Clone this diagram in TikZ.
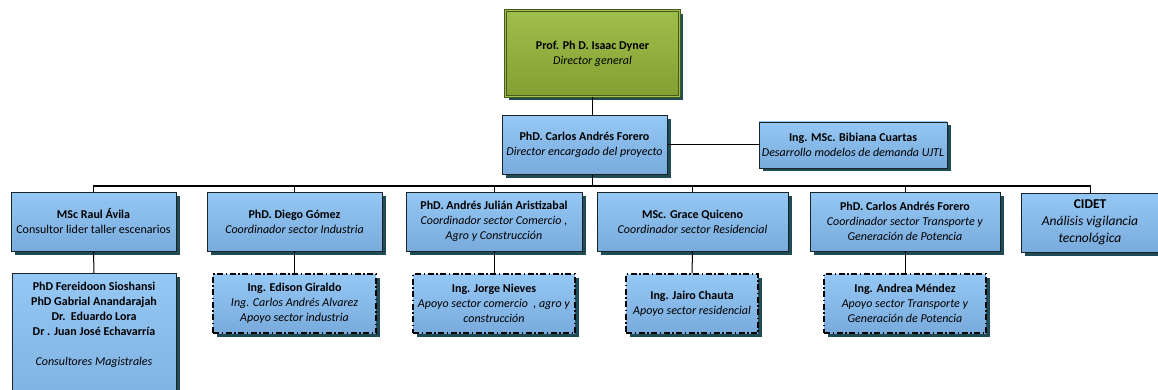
\documentclass[tikz,border=0pt]{standalone}
\usepackage{fontspec}
\setmainfont{Carlito}
\usetikzlibrary{shadows}
\definecolor{blueT}{RGB}{150,200,245}
\definecolor{blueB}{RGB}{120,170,220}
\definecolor{greenT}{RGB}{160,190,75}
\definecolor{greenB}{RGB}{130,160,50}
\definecolor{greenD}{RGB}{70,90,30}
\definecolor{shadowc}{RGB}{30,75,85}
\definecolor{edgec}{RGB}{25,35,40}
\tikzset{
  box/.style={draw=edgec, line width=0.8pt, top color=blueT, bottom color=blueB,
    drop shadow={shadow xshift=3.5pt, shadow yshift=-3.5pt, fill=shadowc, opacity=1},
    align=center, inner sep=2pt, font=\fontsize{12}{15}\selectfont},
  dbox/.style={box, line width=1.4pt, draw=black, dash pattern=on 6pt off 2.5pt on 1.5pt off 2.5pt},
  gbox/.style={draw=greenD, line width=0.6pt, double=greenT, double distance=1.6pt,
    top color=greenT, bottom color=greenB,
    drop shadow={shadow xshift=3.5pt, shadow yshift=-3.5pt, fill=shadowc, opacity=1},
    align=center, inner sep=2pt, font=\fontsize{12}{15}\selectfont},
  conn/.style={draw=black, line width=1pt},
}
\begin{document}
\begin{tikzpicture}[x=1pt,y=-1pt]
\clip (0,0) rectangle (1158,390);
\fill[white] (0,0) rectangle (1158,390);
% level 0
\node[gbox, minimum width=174pt, minimum height=86pt] (dir) at (592.5,53.5)
  {\textbf{Prof. Ph D. Isaac Dyner}\\\textit{Director general}};
% level 1
\node[box, minimum width=165pt, minimum height=59pt] (cf) at (584.5,145)
  {\textbf{PhD. Carlos Andrés Forero}\\\textit{Director encargado del proyecto}};
\node[box, minimum width=188pt, minimum height=46pt] (bc) at (853,145)
  {\textbf{Ing. MSc. Bibiana Cuartas}\\\textit{Desarrollo modelos de demanda UJTL}};
% level 2
\node[box, minimum width=165pt, minimum height=59pt] (ra) at (93.5,221.5)
  {\textbf{MSc Raul Ávila}\\Consultor lider taller escenarios};
\node[box, minimum width=175pt, minimum height=59pt] (dg) at (294.5,221.5)
  {\textbf{PhD. Diego Gómez}\\\textit{Coordinador sector Industria}};
\node[box, minimum width=176pt, minimum height=59pt] (aj) at (494,221.5)
  {\textbf{PhD. Andrés Julián Aristizabal}\\\textit{Coordinador sector Comercio ,}\\\textit{Agro y Construcción}};
\node[box, minimum width=191pt, minimum height=59pt] (gq) at (692.5,221.5)
  {\textbf{MSc. Grace Quiceno}\\\textit{Coordinador sector Residencial}};
\node[box, minimum width=190pt, minimum height=59pt] (ct) at (905,221.5)
  {\textbf{PhD. Carlos Andrés Forero}\\\textit{Coordinador sector Transporte y}\\\textit{Generación de Potencia}};
\node[box, minimum width=137pt, minimum height=59pt, font=\fontsize{13.5}{17}\selectfont] (ci) at (1090,222.5)
  {\textbf{CIDET}\\\textit{Análisis vigilancia}\\\textit{tecnológica}};
% level 3
\node[box, minimum width=164pt, anchor=north, inner ysep=9pt] (cm) at (94,273)
  {\textbf{PhD Fereidoon Sioshansi}\\\textbf{PhD Gabrial Anandarajah}\\\textbf{Dr.\ \ Eduardo Lora}\\\textbf{Dr . Juan José Echavarría}\\[15pt]\textit{Consultores Magistrales}\\[50pt]\mbox{}};
\node[dbox, minimum width=163pt, minimum height=59pt] (eg) at (294.5,303.5)
  {\textbf{Ing. Edison Giraldo}\\\textit{Ing. Carlos Andrés Alvarez}\\\textit{Apoyo sector industria}};
\node[dbox, minimum width=162pt, minimum height=59pt] (jn) at (494,303.5)
  {\textbf{Ing. Jorge Nieves}\\\textit{Apoyo sector comercio\ \ , agro y}\\\textit{construcción}};
\node[dbox, minimum width=132pt, minimum height=59pt] (jc) at (692,303.5)
  {\textbf{Ing. Jairo Chauta}\\\textit{Apoyo sector residencial}};
\node[dbox, minimum width=162pt, minimum height=59pt] (am) at (905,303.5)
  {\textbf{Ing. Andrea Méndez}\\\textit{Apoyo sector Transporte y}\\\textit{Generación de Potencia}};
% connectors
\coordinate (bus) at (592.5,186);
\draw[conn] (dir.south) -- (dir.south |- cf.north);
\draw[conn] (cf.east) -- (bc.west);
\draw[conn] (cf.south -| bus) -- (bus);
\draw[conn] (ra.north) |- (bus) -| (ci.north);
\draw[conn] (dg.north) -- (dg.north |- bus);
\draw[conn] (aj.north) -- (aj.north |- bus);
\draw[conn] (gq.north) -- (gq.north |- bus);
\draw[conn] (ct.north) -- (ct.north |- bus);
\draw[conn] (ra.south) -- (cm.north);
\draw[conn] (dg.south) -- (eg.north);
\draw[conn] (aj.south) -- (jn.north);
\draw[conn] (gq.south) -- (jc.north);
\draw[conn] (ct.south) -- (am.north);
\end{tikzpicture}
\end{document}
